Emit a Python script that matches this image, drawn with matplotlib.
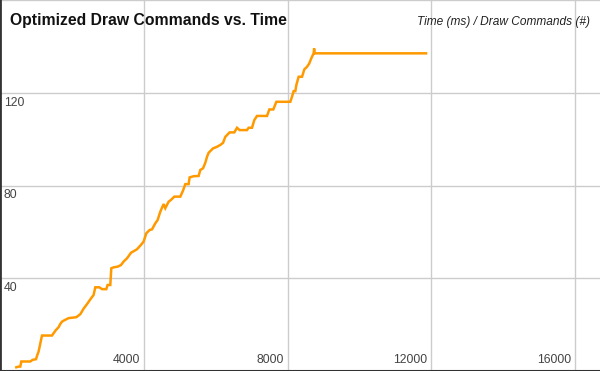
import matplotlib
matplotlib.use("Agg")
import matplotlib.pyplot as plt

# Data
time_ms = [453, 517, 565, 593, 843, 907, 1002, 1029, 1074, 1168, 1447, 1491, 1558,
           1630, 1678, 1725, 1769, 1908, 2123, 2234, 2326, 2437, 2512, 2604, 2651,
           2763, 2838, 2957, 2993, 3068, 3088, 3096, 3160, 3272, 3366, 3439, 3533,
           3644, 3811, 3922, 3995, 4070, 4162, 4229, 4320, 4384, 4459, 4551, 4598,
           4690, 4757, 4849, 5016, 5091, 5155, 5247, 5275, 5386, 5525, 5572, 5647,
           5711, 5759, 5803, 5925, 6037, 6129, 6204, 6268, 6387, 6518, 6593, 6665,
           6871, 6916, 7010, 7074, 7149, 7428, 7492, 7603, 7687, 8076, 8123, 8168,
           8215, 8243, 8307, 8402, 8466, 8541, 8605, 8652, 8724, 8738, 8752, 11851]
draw_commands = [1.6, 1.9, 1.9, 4.1, 4.1, 4.8, 5.1, 6.5, 8.4, 15.3, 15.3, 16.3, 17.7,
                 18.9, 20.3, 21.3, 21.7, 22.8, 23.2, 24.5, 26.9, 29.2, 30.9, 32.8, 36.1,
                 36.1, 35.3, 35.3, 37.1, 37.1, 42.2, 44.3, 44.7, 45.0, 45.7, 47.2, 48.6,
                 51.0, 52.5, 54.4, 55.8, 59.4, 60.8, 61.1, 63.7, 65.1, 68.7, 72.0, 70.2,
                 73.0, 73.8, 75.2, 75.2, 77.8, 80.6, 80.6, 83.5, 84.0, 84.1, 86.7, 87.4,
                 89.8, 92.4, 94.1, 96.0, 96.7, 97.5, 98.4, 101.0, 102.9, 102.9, 104.9, 103.9,
                 103.9, 104.9, 104.9, 108.2, 110.0, 110.0, 112.8, 112.8, 116.1, 116.1, 118.3, 120.7,
                 120.7, 123.3, 126.9, 126.9, 130.1, 131.2, 132.7, 134.6, 137.0, 139.1, 137.0, 137.0]

x_ticks = [4000, 8000, 12000, 16000]
y_ticks = [40, 80, 120]
title = "Optimized Draw Commands vs. Time"
axis_caption = "Time (ms) / Draw Commands (#)"

plt.rcParams['font.family'] = ['Liberation Sans', 'DejaVu Sans']

fig = plt.figure(figsize=(6.0, 3.71), dpi=100)
ax = fig.add_axes([0, 0, 1, 1])
ax.set_xlim(0, 16690)
ax.set_ylim(0, 160)

# grid lines
for xv in x_ticks:
    ax.axvline(xv, color='#cccccc', lw=1.0, zorder=1)
for yv in y_ticks + [160]:
    ax.axhline(yv, color='#cccccc', lw=1.0, zorder=1)

ax.plot(time_ms, draw_commands, color='#ff9900', lw=1.8, zorder=3,
        solid_joinstyle='miter')

ax.set_xticks([])
ax.set_yticks([])
for s in ['top', 'right']:
    ax.spines[s].set_visible(False)
ax.spines['left'].set_color('#333333')
ax.spines['left'].set_linewidth(2.0)
ax.spines['bottom'].set_color('#333333')
ax.spines['bottom'].set_linewidth(1.5)

# tick labels inside the plot
for yv in y_ticks:
    ax.annotate(str(yv), xy=(0, yv), xycoords=('axes fraction', 'data'),
                xytext=(4, -4), textcoords='offset pixels',
                ha='left', va='top', fontsize=8.8, color='#444444')
for xv in x_ticks:
    ax.annotate(str(xv), xy=(xv, 0), xycoords=('data', 'axes fraction'),
                xytext=(-4, 5), textcoords='offset pixels',
                ha='right', va='bottom', fontsize=8.8, color='#444444')

fig.text(10 / 600, 1 - 25 / 371, title, fontsize=11.3, fontweight='bold',
         color='#111111', ha='left', va='baseline')
fig.text(590 / 600, 1 - 25 / 371, axis_caption, fontsize=8.6, style='italic',
         color='#222222', ha='right', va='baseline')

fig.savefig('out.png', dpi=100)
